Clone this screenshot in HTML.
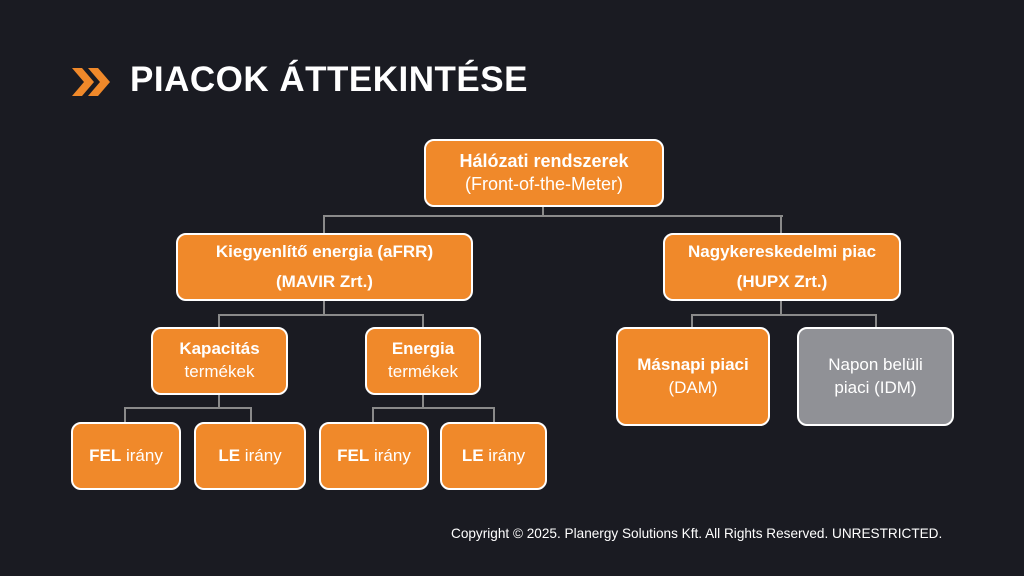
<!DOCTYPE html><html><head><meta charset="utf-8"><style>
body{margin:0;width:1024px;height:576px;background:#1a1b22;position:relative;overflow:hidden;font-family:"Liberation Sans",sans-serif}
.b{position:absolute;box-sizing:border-box;background:#f0892a;border:2px solid #fff;border-radius:10px;color:#fff;display:flex;flex-direction:column;align-items:center;justify-content:center;text-align:center;font-size:17px;line-height:1.35}
.b b{font-weight:bold}
.l{position:absolute;background:#8a8a8a}
.h{height:2px}.v{width:2px}
</style></head><body>
<svg style="position:absolute;left:70px;top:66px" width="44" height="32"><path d="M2 2h10l12 14-12 14H2l12-14z M18 2h10l12 14-12 14H18l12-14z" fill="#f0892a"/></svg>
<div style="position:absolute;left:130px;top:60px;color:#fff;font-weight:bold;font-size:35px;letter-spacing:0.5px">PIACOK ÁTTEKINTÉSE</div>

<div class="l v" style="left:542px;top:206px;height:11px"></div>
<div class="l h" style="left:323px;top:215px;width:460px"></div>
<div class="l v" style="left:323px;top:215px;height:18px"></div>
<div class="l v" style="left:780px;top:215px;height:18px"></div>
<div class="l v" style="left:323px;top:300px;height:15px"></div>
<div class="l h" style="left:218px;top:314px;width:206px"></div>
<div class="l v" style="left:218px;top:314px;height:13px"></div>
<div class="l v" style="left:422px;top:314px;height:13px"></div>
<div class="l v" style="left:780px;top:300px;height:15px"></div>
<div class="l h" style="left:691px;top:314px;width:186px"></div>
<div class="l v" style="left:691px;top:314px;height:13px"></div>
<div class="l v" style="left:875px;top:314px;height:13px"></div>
<div class="l v" style="left:218px;top:394px;height:14px"></div>
<div class="l h" style="left:124px;top:407px;width:128px"></div>
<div class="l v" style="left:124px;top:407px;height:15px"></div>
<div class="l v" style="left:250px;top:407px;height:15px"></div>
<div class="l v" style="left:422px;top:394px;height:14px"></div>
<div class="l h" style="left:372px;top:407px;width:123px"></div>
<div class="l v" style="left:372px;top:407px;height:15px"></div>
<div class="l v" style="left:493px;top:407px;height:15px"></div>

<div class="b" style="left:424px;top:139px;width:240px;height:68px;font-size:18px;line-height:1.3"><b>Hálózati rendszerek</b><span>(Front-of-the-Meter)</span></div>
<div class="b" style="left:176px;top:233px;width:297px;height:68px;line-height:1.75"><b>Kiegyenlítő energia (aFRR)</b><b>(MAVIR Zrt.)</b></div>
<div class="b" style="left:663px;top:233px;width:238px;height:68px;line-height:1.75"><b>Nagykereskedelmi piac</b><b>(HUPX Zrt.)</b></div>
<div class="b" style="left:151px;top:327px;width:137px;height:68px"><b>Kapacitás</b><span>termékek</span></div>
<div class="b" style="left:365px;top:327px;width:116px;height:68px"><b>Energia</b><span>termékek</span></div>
<div class="b" style="left:616px;top:327px;width:154px;height:99px"><b>Másnapi piaci</b><span>(DAM)</span></div>
<div class="b" style="left:797px;top:327px;width:157px;height:99px;background:#909196"><span>Napon belüli</span><span>piaci (IDM)</span></div>
<div class="b" style="left:71px;top:422px;width:110px;height:68px"><span><b>FEL</b> irány</span></div>
<div class="b" style="left:194px;top:422px;width:112px;height:68px"><span><b>LE</b> irány</span></div>
<div class="b" style="left:319px;top:422px;width:110px;height:68px"><span><b>FEL</b> irány</span></div>
<div class="b" style="left:440px;top:422px;width:107px;height:68px"><span><b>LE</b> irány</span></div>

<div style="position:absolute;left:451px;top:526px;color:#fff;font-size:13.6px">Copyright © 2025. Planergy Solutions Kft. All Rights Reserved. UNRESTRICTED.</div>
</body></html>
